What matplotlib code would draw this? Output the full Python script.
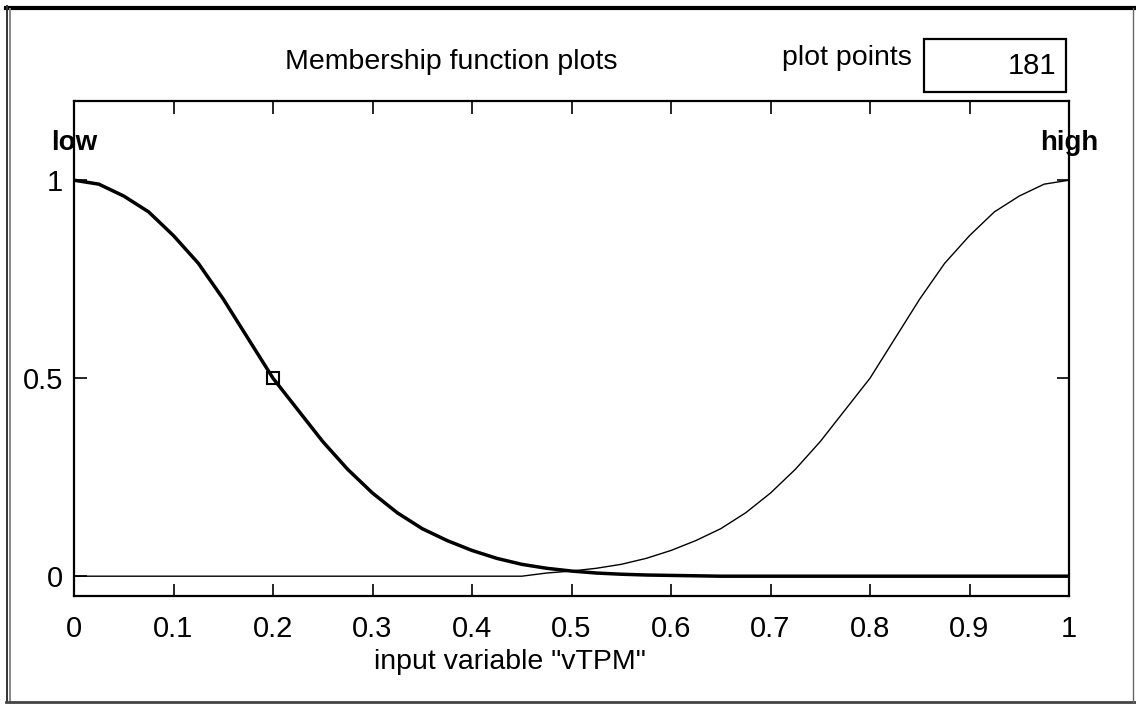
import matplotlib
matplotlib.use('Agg')
import matplotlib.pyplot as plt
from matplotlib.lines import Line2D
from matplotlib.patches import Rectangle
from matplotlib import font_manager

# membership values (step 0.025)
x_vals = [0.0, 0.025, 0.05, 0.075, 0.1, 0.125, 0.15, 0.175, 0.2, 0.225,
          0.25, 0.275, 0.3, 0.325, 0.35, 0.375, 0.4, 0.425, 0.45, 0.475,
          0.5, 0.525, 0.55, 0.575, 0.6, 0.625, 0.65, 0.675, 0.7, 0.725,
          0.75, 0.775, 0.8, 0.825, 0.85, 0.875, 0.9, 0.925, 0.95, 0.975, 1.0]
low_vals = [1.0, 0.99, 0.96, 0.92, 0.86, 0.79, 0.70, 0.60, 0.50, 0.42,
            0.34, 0.27, 0.21, 0.16, 0.12, 0.09, 0.065, 0.045, 0.03, 0.02,
            0.013, 0.008, 0.005, 0.003, 0.002, 0.001, 0.0, 0.0, 0.0, 0.0,
            0.0, 0.0, 0.0, 0.0, 0.0, 0.0, 0.0, 0.0, 0.0, 0.0, 0.0]
high_vals = [0.0, 0.0, 0.0, 0.0, 0.0, 0.0, 0.0, 0.0, 0.0, 0.0,
             0.0, 0.0, 0.0, 0.0, 0.0, 0.0, 0.0, 0.0, 0.0, 0.008,
             0.013, 0.02, 0.03, 0.045, 0.065, 0.09, 0.12, 0.16, 0.21, 0.27,
             0.34, 0.42, 0.50, 0.60, 0.70, 0.79, 0.86, 0.92, 0.96, 0.99, 1.0]
mf_names = ['low', 'high']
marker_pt = (0.2, 0.5)
xticks = [0, 0.1, 0.2, 0.3, 0.4, 0.5, 0.6, 0.7, 0.8, 0.9, 1]
xticklabels = ['0', '0.1', '0.2', '0.3', '0.4', '0.5', '0.6', '0.7', '0.8', '0.9', '1']
yticks = [0, 0.5, 1]
yticklabels = ['0', '0.5', '1']
n_points = '181'

W, H = 1136, 704
fig = plt.figure(figsize=(W / 100, H / 100), dpi=100)
fig.patch.set_facecolor('white')

installed = {f.name for f in font_manager.fontManager.ttflist}
narrow = [f for f in ['Liberation Sans Narrow', 'DejaVu Sans Condensed']
          if f in installed] + ['Liberation Sans', 'DejaVu Sans']
sans = ['Liberation Sans', 'DejaVu Sans']
num_size = 21 if narrow[0] == 'Liberation Sans' else 22

def fx(px):
    return px / W

def fy(py):
    return 1 - py / H

# axes box in pixel terms
left, right, top, bottom = 74, 1069, 101, 596
ax = fig.add_axes([fx(left), fy(bottom), fx(right - left), (bottom - top) / H])
ax.plot(x_vals, high_vals, color='black', lw=1.0)
ax.plot(x_vals, low_vals, color='black', lw=2.5)
ax.plot([marker_pt[0]], [marker_pt[1]], marker='s', ms=9, mfc='none',
        mec='black', mew=1.5)

ax.set_xlim(0, 1)
ax.set_ylim(-0.05, 1.2)
ax.set_xticks(xticks)
ax.set_xticklabels(xticklabels)
ax.set_yticks(yticks)
ax.set_yticklabels(yticklabels)
ax.tick_params(direction='in', length=9, width=1.2, top=True, right=True,
               colors='black')
ax.tick_params(axis='x', pad=14)
ax.tick_params(axis='y', pad=8)
for lab in ax.get_xticklabels() + ax.get_yticklabels():
    lab.set_family(narrow)
    lab.set_fontsize(num_size)
for sp in ax.spines.values():
    sp.set_linewidth(1.6)

ax.text(0, 1.075, mf_names[0], ha='center', va='baseline', fontsize=20,
        fontweight='bold', family=narrow, clip_on=False)
ax.text(1, 1.075, mf_names[1], ha='center', va='baseline', fontsize=20,
        fontweight='bold', family=narrow, clip_on=False)

# header texts
fig.text(fx(451), fy(62), 'Membership function plots', ha='center',
         va='center', fontsize=20.5, family=sans)
fig.text(fx(912), fy(58), 'plot points', ha='right', va='center',
         fontsize=20.5, family=sans)
fig.add_artist(Rectangle((fx(924), fy(92)), fx(1066 - 924), (92 - 39) / H,
                         transform=fig.transFigure, fill=False,
                         edgecolor='black', lw=1.6))
fig.text(fx(1056), fy(66), n_points, ha='right', va='center', fontsize=num_size,
         family=narrow)
fig.text(fx(510), fy(662), 'input variable "vTPM"', ha='center',
         va='center', fontsize=20.5, family=sans)

# outer frame
fig.add_artist(Line2D([fx(6), 1], [fy(8), fy(8)], color='black', lw=3,
                      transform=fig.transFigure))
fig.add_artist(Line2D([fx(6.5), fx(6.5)], [fy(6), fy(702)], color='#333333',
                      lw=1.4, transform=fig.transFigure))
fig.add_artist(Line2D([fx(10), fx(10)], [fy(9), fy(702)], color='#888888',
                      lw=1.4, transform=fig.transFigure))
fig.add_artist(Line2D([fx(6), 1], [fy(702), fy(702)], color='#444444',
                      lw=2, transform=fig.transFigure))
fig.add_artist(Line2D([fx(1133), fx(1133)], [fy(8), fy(702)], color='#666666',
                      lw=1, transform=fig.transFigure))

fig.savefig('out.png', dpi=100)
